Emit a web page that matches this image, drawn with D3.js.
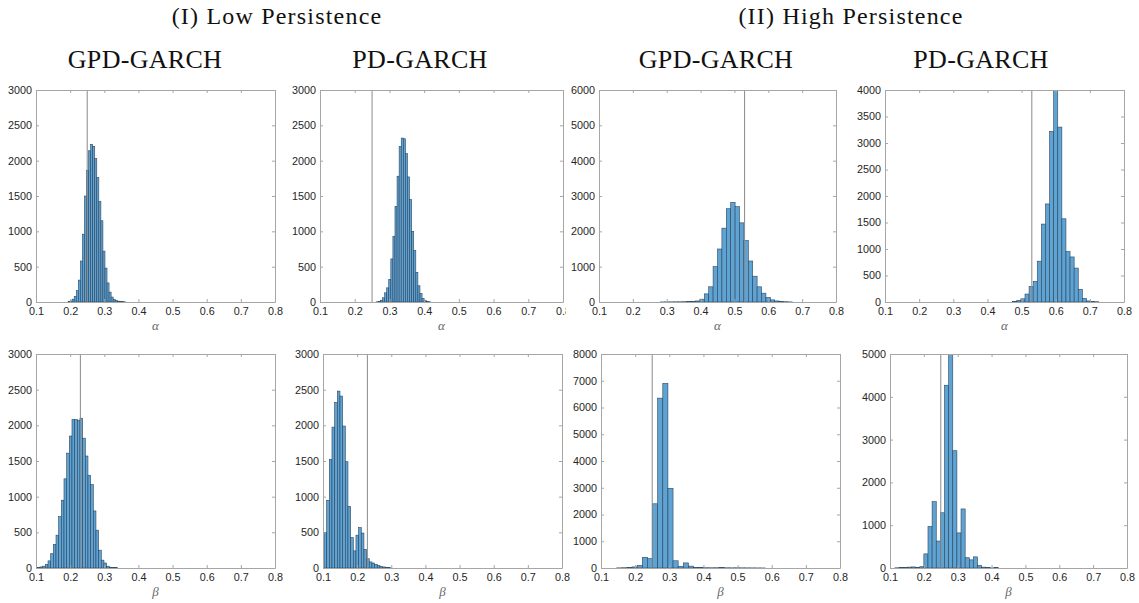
<!DOCTYPE html>
<html>
<head>
<meta charset="utf-8">
<script src="https://cdn.jsdelivr.net/npm/d3@7"></script>
<style>
  body { margin: 0; background: #fff; }
  svg { display: block; }
  .tick text { font-family: "Liberation Sans", Arial, sans-serif; font-size: 10.8px; fill: #262626; }
  .title { font-family: "Liberation Serif", "Times New Roman", serif; fill: #111; text-anchor: middle; }
  .xlab { font-family: "Liberation Serif", serif; font-style: italic; font-size: 13px; fill: #666; text-anchor: middle; }
</style>
</head>
<body>
<div id="chart"></div>
<script>
// histogram counts, one array per panel
// bins start at *Start and are *Width wide
var lowGpdAlphaStart = 0.194, lowGpdAlphaWidth = 0.006;
var lowGpdAlpha = [5, 15, 40, 80, 160, 310, 580, 960, 1500, 1860, 2140, 2230, 2200, 2030,
                   1760, 1420, 1150, 720, 480, 270, 140, 70, 35, 20, 12, 8, 5, 3];

var lowPdAlphaStart = 0.262, lowPdAlphaWidth = 0.006;
var lowPdAlpha = [3, 10, 25, 60, 130, 200, 320, 610, 930, 1350, 1780, 2200, 2320, 2310,
                  2100, 1770, 1450, 1000, 730, 420, 230, 120, 50, 20, 10, 4];

var highGpdAlphaStart = 0.281, highGpdAlphaWidth = 0.013;
var highGpdAlpha = [2, 3, 4, 5, 6, 8, 10, 15, 30, 80, 230, 430, 1000, 1500, 2090, 2640,
                    2820, 2700, 2240, 1740, 1160, 730, 430, 250, 130, 60, 30, 15, 8, 3];

var highPdAlphaStart = 0.474, highPdAlphaWidth = 0.012;
var highPdAlpha = [10, 30, 60, 150, 290, 390, 770, 1470, 1850, 3220, 4000, 3300, 1570,
                   950, 850, 640, 240, 70, 20, 10, 5];

var lowGpdBetaStart = 0.104, lowGpdBetaWidth = 0.0078;
var lowGpdBeta = [10, 15, 25, 50, 100, 200, 330, 460, 720, 950, 1250, 1610, 1850, 2080,
                  2080, 2070, 2100, 1820, 1570, 1300, 1170, 800, 530, 250, 110, 70, 25, 10, 8, 5];

var lowPdBetaStart = 0.0951, lowPdBetaWidth = 0.0078;
var lowPdBeta = [100, 500, 950, 1520, 1975, 2320, 2480, 2410, 1990, 1490, 865, 425, 240,
                 460, 565, 490, 260, 130, 85, 70, 50, 35, 20, 15, 10, 5];

var highGpdBetaStart = 0.146, highGpdBetaWidth = 0.015;
var highGpdBeta = [5, 10, 20, 40, 100, 400, 350, 2400, 6350, 6900, 2980, 270, 60, 190, 70,
                   20, 15, 10, 8, 10, 12, 8, 6, 8, 6, 5, 4, 3, 2];

var highPdBetaStart = 0.1146, highPdBetaWidth = 0.0122;
var highPdBeta = [5, 10, 15, 20, 25, 15, 30, 330, 970, 1550, 630, 1290, 4270, 5000, 2740,
                  820, 1380, 240, 190, 260, 60, 20, 8, 3, 12];

// true parameter values (vertical lines)
var trueValues = [0.25, 0.25, 0.53, 0.53, 0.23, 0.23, 0.25, 0.25];
// y axis upper limits and tick steps
var yMax = [3000, 3000, 6000, 4000, 3000, 3000, 8000, 5000];
var yStep = [500, 500, 1000, 500, 500, 500, 1000, 1000];
var xTicks = [0.1, 0.2, 0.3, 0.4, 0.5, 0.6, 0.7, 0.8];
var xLabels = ["\u03b1", "\u03b1", "\u03b1", "\u03b1", "\u03b2", "\u03b2", "\u03b2", "\u03b2"];

var groupTitles = ["(I) Low Persistence", "(II) High Persistence"];
var modelTitles = ["GPD-GARCH", "PD-GARCH", "GPD-GARCH", "PD-GARCH"];

var svg = d3.select("#chart").append("svg")
    .attr("width", 1139)
    .attr("height", 603);

// titles
var groupX = [277, 851];
svg.selectAll(".gtitle").data(groupTitles).enter().append("text")
    .attr("class", "title")
    .attr("x", (d, i) => groupX[i])
    .attr("y", 24)
    .style("font-size", "24px")
    .style("letter-spacing", "1.2px")
    .text(d => d);

var modelX = [145, 420, 716, 981];
svg.selectAll(".mtitle").data(modelTitles).enter().append("text")
    .attr("class", "title")
    .attr("x", (d, i) => modelX[i])
    .attr("y", 68)
    .style("font-size", "26px")
    .style("letter-spacing", "0.3px")
    .text(d => d);

// plot boxes (left, right, top, bottom)
var boxes = [
    [36, 275, 90, 302], [320, 563, 90, 302], [599, 836, 90, 302], [885, 1124, 90, 302],
    [36, 275, 354, 568], [323, 562, 354, 568], [601, 840, 354, 568], [890, 1127, 354, 568]
];

var panels = [
    {start: lowGpdAlphaStart, width: lowGpdAlphaWidth, counts: lowGpdAlpha},
    {start: lowPdAlphaStart, width: lowPdAlphaWidth, counts: lowPdAlpha},
    {start: highGpdAlphaStart, width: highGpdAlphaWidth, counts: highGpdAlpha},
    {start: highPdAlphaStart, width: highPdAlphaWidth, counts: highPdAlpha},
    {start: lowGpdBetaStart, width: lowGpdBetaWidth, counts: lowGpdBeta},
    {start: lowPdBetaStart, width: lowPdBetaWidth, counts: lowPdBeta},
    {start: highGpdBetaStart, width: highGpdBetaWidth, counts: highGpdBeta},
    {start: highPdBetaStart, width: highPdBetaWidth, counts: highPdBeta}
];

var defs = svg.append("defs");

panels.forEach(function(p, k) {
    var b = boxes[k];
    var x = d3.scaleLinear().domain([0.1, 0.8]).range([b[0], b[1]]);
    var y = d3.scaleLinear().domain([0, yMax[k]]).range([b[3], b[2]]);
    var yTicks = d3.range(0, yMax[k] + 1, yStep[k]);

    var g = svg.append("g");

    // clip for the bars
    defs.append("clipPath").attr("id", "clip" + k)
        .append("rect")
        .attr("x", b[0]).attr("y", b[2])
        .attr("width", b[1] - b[0]).attr("height", b[3] - b[2]);

    // the second top panel has its last tick label cut off in the figure
    if (k === 1) {
        defs.append("clipPath").attr("id", "cut1")
            .append("rect").attr("x", 0).attr("y", 0).attr("width", 566).attr("height", 603);
        g.attr("clip-path", "url(#cut1)");
    }

    var bins = p.counts.map(function(c, i) {
        return {x0: p.start + i * p.width, x1: p.start + (i + 1) * p.width, n: c};
    });

    g.append("g")
        .attr("clip-path", "url(#clip" + k + ")")
        .selectAll("rect")
        .data(bins)
        .enter()
        .append("rect")
        .attr("x", d => x(d.x0))
        .attr("width", d => x(d.x1) - x(d.x0))
        .attr("y", d => y(d.n))
        .attr("height", d => y(0) - y(d.n))
        .attr("fill", "#5fa3d3")
        .attr("stroke", "#2a4560")
        .attr("stroke-width", 0.6);

    // true value line
    g.append("line")
        .attr("x1", x(trueValues[k])).attr("x2", x(trueValues[k]))
        .attr("y1", b[2]).attr("y2", b[3])
        .attr("stroke", "#8a8a8a")
        .attr("stroke-width", 1);

    // axes, ticks pointing inward on all four sides
    var bottom = g.append("g")
        .attr("transform", `translate(0, ${b[3]})`)
        .call(d3.axisBottom(x).tickValues(xTicks).tickFormat(d3.format(".1f"))
            .tickSizeInner(-3).tickSizeOuter(0).tickPadding(5));
    var left = g.append("g")
        .attr("transform", `translate(${b[0]}, 0)`)
        .call(d3.axisLeft(y).tickValues(yTicks).tickFormat(d3.format("d"))
            .tickSizeInner(-3).tickSizeOuter(0).tickPadding(4));
    var top = g.append("g")
        .attr("transform", `translate(0, ${b[2]})`)
        .call(d3.axisTop(x).tickValues(xTicks).tickFormat("")
            .tickSizeInner(-3).tickSizeOuter(0));
    var right = g.append("g")
        .attr("transform", `translate(${b[1]}, 0)`)
        .call(d3.axisRight(y).tickValues(yTicks).tickFormat("")
            .tickSizeInner(-3).tickSizeOuter(0));

    [bottom, left, top, right].forEach(function(a) {
        a.select(".domain").attr("stroke", "#a6a6a6");
        a.selectAll(".tick line").attr("stroke", "#a6a6a6");
    });

    g.append("text")
        .attr("class", "xlab")
        .attr("x", (b[0] + b[1]) / 2)
        .attr("y", b[3] + 28)
        .text(xLabels[k]);
});
</script>
</body>
</html>
